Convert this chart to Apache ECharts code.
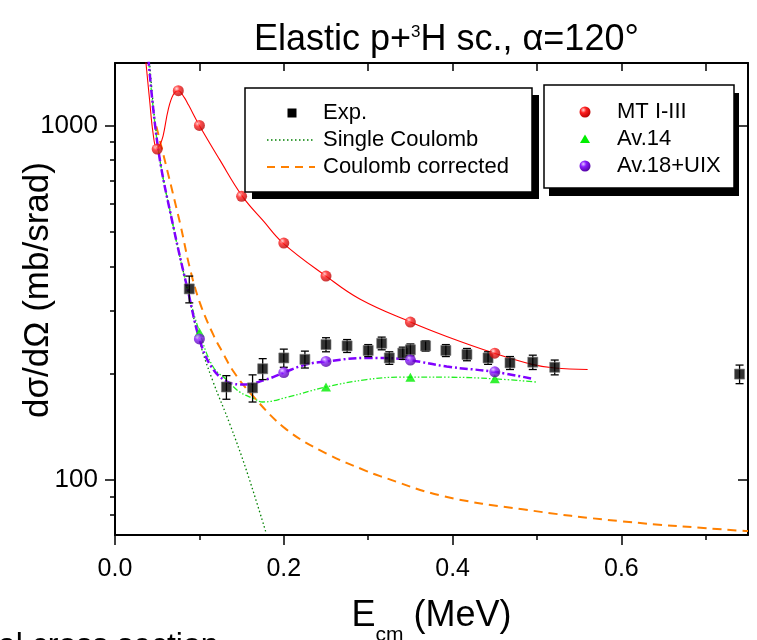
<!DOCTYPE html>
<html><head><meta charset="utf-8">
<script src="https://cdn.jsdelivr.net/npm/echarts@6.0.0/dist/echarts.min.js"></script>
<style>html,body{margin:0;padding:0;background:#fff}#c{width:757px;height:640px}</style>
</head><body><div id="c"></div>
<script>
// ---------- data ----------
const xMajorTicks = [0, 0.2, 0.4, 0.6];
const xMinorTicks = [0.1, 0.3, 0.5, 0.7];
const xTopTicks = [0.1, 0.2, 0.3, 0.4, 0.5, 0.6, 0.7];
const yMajorTicks = [100, 1000];
const yMinorTicks = [80, 90, 200, 300, 400, 500, 600, 700, 800, 900];

// experimental points
const expE   = [0.088, 0.132, 0.163, 0.175, 0.200, 0.225, 0.250, 0.275, 0.300, 0.316, 0.325, 0.341, 0.350, 0.368, 0.392, 0.417, 0.442, 0.468, 0.495, 0.521, 0.740];
const expVal = [346, 183, 182, 206, 221, 219, 241, 239, 232, 243, 221, 228, 233, 239, 232, 226, 221, 214, 215, 208, 199];
const expErr = [30, 14, 16, 14, 13, 12, 11, 10, 9, 10, 9, 9, 9, 8, 9, 9, 9, 9, 10, 10, 12];

// Single Coulomb curve
const scE   = [0.0406, 0.0513, 0.069, 0.087, 0.1006, 0.116, 0.136, 0.156, 0.179];
const scVal = [1550, 860, 520, 335, 244, 190, 144, 106, 71];

// Coulomb corrected curve
const ccE   = [0.049, 0.077, 0.0888, 0.1006, 0.1164, 0.128, 0.140, 0.162, 0.203, 0.250, 0.298, 0.314, 0.388, 0.483, 0.598, 0.740, 0.750];
const ccVal = [994, 531, 395, 316, 257, 228, 203, 174, 139, 119, 106, 102.6, 90.2, 82.7, 76.6, 72.0, 71.8];

// MT I-III curve and points
const mtCurveE   = [0.036, 0.041, 0.045, 0.0493, 0.053, 0.057, 0.063, 0.069, 0.075, 0.082, 0.087, 0.100, 0.124, 0.151, 0.176, 0.199, 0.250, 0.290, 0.350, 0.393, 0.449, 0.494, 0.521, 0.560];
const mtCurveVal = [1560, 1180, 955, 864, 880, 935, 1107, 1220, 1253, 1200, 1143, 1000, 801, 631, 537, 466, 376, 324, 279, 254, 228, 212, 207, 205];
const mtE   = [0.05, 0.075, 0.10, 0.15, 0.20, 0.25, 0.35, 0.45];
const mtVal = [858, 1253, 1000, 631, 466, 376, 279, 228];

// Av.14 curve and points
const av14CurveE   = [0.0395, 0.0513, 0.069, 0.087, 0.100, 0.116, 0.132, 0.148, 0.164, 0.175, 0.203, 0.250, 0.298, 0.337, 0.393, 0.449, 0.499];
const av14CurveVal = [1550, 854, 520, 337, 262, 209, 192, 177, 170, 166, 171, 183, 192, 195, 195, 193, 189];
const av14E   = [0.10, 0.25, 0.35, 0.45];
const av14Val = [261, 183, 195, 193];

// Av.18+UIX curve and points
const av18CurveE   = [0.0395, 0.0513, 0.069, 0.087, 0.100, 0.114, 0.132, 0.152, 0.179, 0.200, 0.227, 0.250, 0.298, 0.337, 0.350, 0.393, 0.449, 0.495];
const av18CurveVal = [1550, 854, 520, 337, 250, 209, 190, 186, 192, 201, 212, 216, 221, 220, 218, 209, 202, 193];
const av18E   = [0.10, 0.20, 0.25, 0.35, 0.45];
const av18Val = [250, 201, 216, 218, 202];

// ---------- styling ----------
const FONT = '"Liberation Sans", Arial, Helvetica, sans-serif';
const pairs = (xs, ys) => xs.map((x, i) => [x, ys[i]]);
const redBall = {type: 'radial', x: 0.35, y: 0.32, r: 0.75, colorStops: [
  {offset: 0, color: '#ffd6d6'}, {offset: 0.35, color: '#ff2020'}, {offset: 1, color: '#b00000'}]};
const purpleBall = {type: 'radial', x: 0.35, y: 0.32, r: 0.75, colorStops: [
  {offset: 0, color: '#e2c8ff'}, {offset: 0.35, color: '#8a1cff'}, {offset: 1, color: '#4d0099'}]};
const axisLineStyle = {color: '#000', width: 2};
const tickStyle = {color: '#000', width: 1.5};

const xBase = {type: 'value', min: 0, max: 0.75, splitLine: {show: false}};
const yBase = {type: 'log', logBase: 10, min: 70, max: 1500, splitLine: {show: false}};
const curve = {type: 'line', smooth: 0.4, symbol: 'none', showSymbol: false, z: 2};

const option = {
  animation: false,
  backgroundColor: '#fff',
  title: {
    text: '{a|Elastic p+}{s|3}{a|H sc., }{a|α}{a|=120°}',
    left: 254, top: 19, padding: 0,
    textStyle: {
      fontWeight: 'normal',
      rich: {
        a: {fontSize: 36, fontWeight: 'normal', fontFamily: FONT, color: '#000', lineHeight: 42},
        s: {fontSize: 17, fontWeight: 'normal', fontFamily: FONT, color: '#000', verticalAlign: 'top', height: 27}
      }
    }
  },
  grid: {left: 115, right: 9, top: 63, bottom: 105, containLabel: false, outerBoundsMode: 'none'},
  xAxis: [
    Object.assign({}, xBase, {
      position: 'bottom',
      axisLine: {show: true, onZero: false, lineStyle: axisLineStyle},
      axisTick: {show: true, customValues: xMajorTicks, length: 10, lineStyle: tickStyle},
      axisLabel: {customValues: xMajorTicks, formatter: v => v.toFixed(1), fontSize: 25, fontFamily: FONT, color: '#000', margin: 22},
      name: '{a|E}{s|cm}{a| (MeV)}',
      nameLocation: 'middle', nameGap: 59, nameMoveOverlap: false,
      nameTextStyle: {
        rich: {
          a: {fontSize: 36, fontFamily: FONT, color: '#000', lineHeight: 44},
          s: {fontSize: 21, fontFamily: FONT, color: '#000', verticalAlign: 'bottom', height: 5}
        }
      }
    }),
    Object.assign({}, xBase, {
      position: 'bottom',
      axisLine: {show: false},
      axisTick: {show: true, customValues: xMinorTicks, length: 5, lineStyle: tickStyle},
      axisLabel: {show: false}
    }),
    Object.assign({}, xBase, {
      position: 'top',
      axisLine: {show: true, onZero: false, lineStyle: axisLineStyle},
      axisTick: {show: true, inside: true, customValues: xTopTicks, length: 8, lineStyle: tickStyle},
      axisLabel: {show: false}
    })
  ],
  yAxis: [
    Object.assign({}, yBase, {
      position: 'left',
      axisLine: {show: true, onZero: false, lineStyle: axisLineStyle},
      axisTick: {show: true, customValues: yMajorTicks, length: 10, lineStyle: tickStyle},
      axisLabel: {customValues: yMajorTicks, formatter: v => String(Math.round(v)), fontSize: 26, fontFamily: FONT, color: '#000', margin: 17},
      name: 'dσ/dΩ (mb/srad)',
      nameLocation: 'middle', nameGap: 59, nameMoveOverlap: false,
      nameTextStyle: {fontSize: 35, fontFamily: FONT, color: '#000', padding: [0, 0, 0, 18]}
    }),
    Object.assign({}, yBase, {
      position: 'left',
      axisLine: {show: false},
      axisTick: {show: true, customValues: yMinorTicks, length: 5, lineStyle: tickStyle},
      axisLabel: {show: false}
    }),
    Object.assign({}, yBase, {
      position: 'right',
      axisLine: {show: true, onZero: false, lineStyle: axisLineStyle},
      axisTick: {show: true, inside: true, customValues: yMajorTicks, length: 10, lineStyle: tickStyle},
      axisLabel: {show: false}
    }),
    Object.assign({}, yBase, {
      position: 'right',
      axisLine: {show: false},
      axisTick: {show: true, inside: true, customValues: yMinorTicks, length: 5, lineStyle: tickStyle},
      axisLabel: {show: false}
    })
  ],
  series: [
    Object.assign({}, curve, {
      name: 'Coulomb corrected', data: pairs(ccE, ccVal),
      lineStyle: {color: '#ff8000', width: 2, type: [9, 6]}
    }),
    Object.assign({}, curve, {
      name: 'Single Coulomb', data: pairs(scE, scVal),
      lineStyle: {color: '#008000', width: 1.3, type: [1.5, 2.5]}
    }),
    Object.assign({}, curve, {
      name: 'MT I-III curve', data: pairs(mtCurveE, mtCurveVal),
      lineStyle: {color: '#ff0000', width: 1.1}
    }),
    Object.assign({}, curve, {
      name: 'Av.14 curve', data: pairs(av14CurveE, av14CurveVal),
      lineStyle: {color: '#22ee22', width: 1.3, type: [6, 2, 1.5, 2, 1.5, 2]}
    }),
    Object.assign({}, curve, {
      name: 'Av.18+UIX curve', data: pairs(av18CurveE, av18CurveVal),
      lineStyle: {color: '#8000ff', width: 2.5, type: [8, 3, 2, 3]}
    }),
    {
      name: 'Exp. errors', type: 'custom', z: 3,
      data: expE.map((e, i) => [e, expVal[i], expErr[i]]),
      encode: {x: 0, y: 1},
      renderItem: function (params, api) {
        const x = api.value(0), y = api.value(1), d = api.value(2);
        const t = api.coord([x, y + d]), b = api.coord([x, y - d]);
        const hw = 4, st = {stroke: '#000', lineWidth: 1.3};
        return {type: 'group', children: [
          {type: 'line', shape: {x1: t[0], y1: t[1], x2: b[0], y2: b[1]}, style: st},
          {type: 'line', shape: {x1: t[0] - hw, y1: t[1], x2: t[0] + hw, y2: t[1]}, style: st},
          {type: 'line', shape: {x1: b[0] - hw, y1: b[1], x2: b[0] + hw, y2: b[1]}, style: st}
        ]};
      }
    },
    {
      name: 'Exp.', type: 'scatter', data: pairs(expE, expVal), z: 4,
      symbol: 'rect', symbolSize: 10,
      itemStyle: {color: '#000', borderColor: '#777', borderWidth: 0.8}
    },
    {
      name: 'MT I-III', type: 'scatter', data: pairs(mtE, mtVal), z: 5,
      symbol: 'circle', symbolSize: 11, itemStyle: {color: redBall}
    },
    {
      name: 'Av.14', type: 'scatter', data: pairs(av14E, av14Val), z: 5,
      symbol: 'triangle', symbolSize: [10, 9], itemStyle: {color: '#00ee00'}
    },
    {
      name: 'Av.18+UIX', type: 'scatter', data: pairs(av18E, av18Val), z: 5,
      symbol: 'circle', symbolSize: 11, itemStyle: {color: purpleBall}
    }
  ],
  graphic: [
    // legend 1
    {type: 'rect', shape: {x: 252, y: 95, width: 287, height: 104}, style: {fill: '#000'}, z: 100},
    {type: 'rect', shape: {x: 245, y: 88, width: 287, height: 104}, style: {fill: '#fff', stroke: '#000', lineWidth: 1.5}, z: 101},
    {type: 'rect', shape: {x: 287.5, y: 108.5, width: 9, height: 9}, style: {fill: '#000'}, z: 102},
    {type: 'line', shape: {x1: 267, y1: 140, x2: 315, y2: 140}, style: {stroke: '#008000', lineWidth: 1.3, lineDash: [1.5, 2.5]}, z: 102},
    {type: 'line', shape: {x1: 267, y1: 167, x2: 315, y2: 167}, style: {stroke: '#ff8000', lineWidth: 2, lineDash: [8, 6]}, z: 102},
    {type: 'text', x: 323, y: 113, style: {text: 'Exp.', font: '22px ' + FONT, fill: '#000', verticalAlign: 'middle'}, z: 102},
    {type: 'text', x: 323, y: 140, style: {text: 'Single Coulomb', font: '22px ' + FONT, fill: '#000', verticalAlign: 'middle'}, z: 102},
    {type: 'text', x: 323, y: 167, style: {text: 'Coulomb corrected', font: '22px ' + FONT, fill: '#000', verticalAlign: 'middle'}, z: 102},
    // legend 2
    {type: 'rect', shape: {x: 549, y: 93, width: 190, height: 103}, style: {fill: '#000'}, z: 100},
    {type: 'rect', shape: {x: 544, y: 85, width: 190, height: 103}, style: {fill: '#fff', stroke: '#000', lineWidth: 1.5}, z: 101},
    {type: 'circle', shape: {cx: 585, cy: 112, r: 5.5}, style: {fill: redBall}, z: 102},
    {type: 'polygon', shape: {points: [[580, 143], [590, 143], [585, 134.5]]}, style: {fill: '#00ee00'}, z: 102},
    {type: 'circle', shape: {cx: 585, cy: 166, r: 5.5}, style: {fill: purpleBall}, z: 102},
    {type: 'text', x: 617, y: 112, style: {text: 'MT I-III', font: '22px ' + FONT, fill: '#000', verticalAlign: 'middle'}, z: 102},
    {type: 'text', x: 617, y: 139, style: {text: 'Av.14', font: '22px ' + FONT, fill: '#000', verticalAlign: 'middle'}, z: 102},
    {type: 'text', x: 617, y: 166, style: {text: 'Av.18+UIX', font: '22px ' + FONT, fill: '#000', verticalAlign: 'middle'}, z: 102},
    // cropped caption at the bottom-left edge
    {type: 'text', x: -2, y: 646, style: {text: 'al cross section', font: '32px ' + FONT, fill: '#000', verticalAlign: 'middle'}, z: 102}
  ]
};

const chart = echarts.init(document.getElementById('c'), null, {renderer: 'canvas'});
chart.setOption(option);
</script></body></html>
